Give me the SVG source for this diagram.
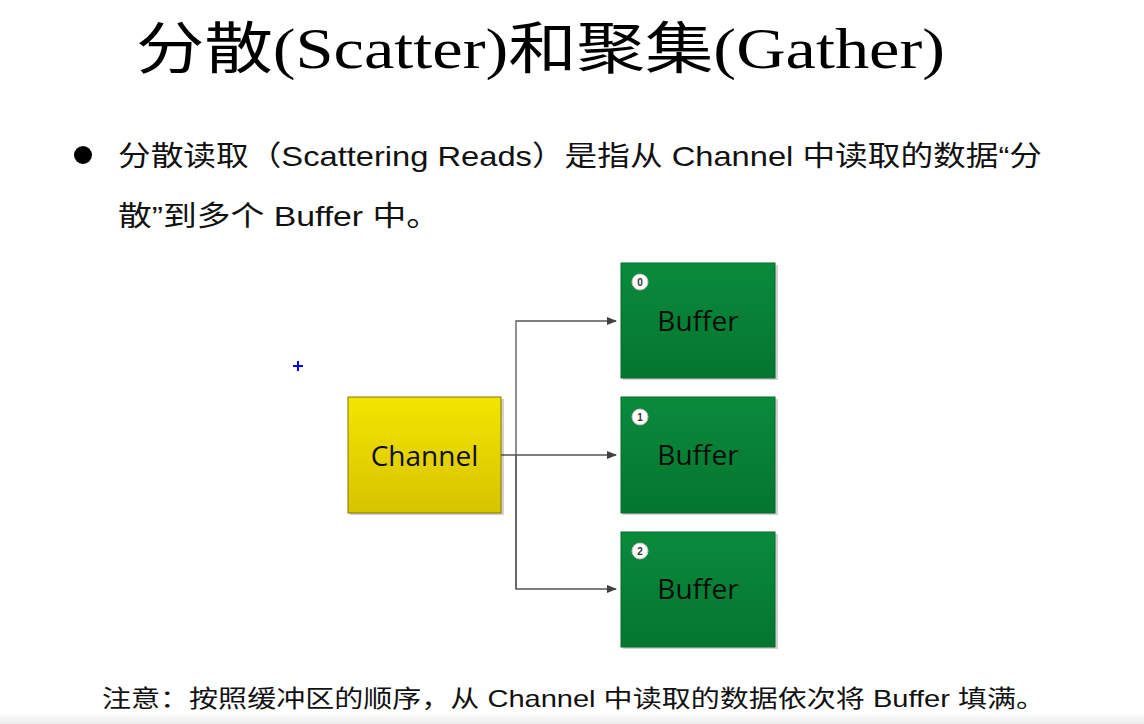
<svg xmlns="http://www.w3.org/2000/svg" width="1144" height="724" viewBox="0 0 1144 724">
<defs>
<linearGradient id="gGreen" x1="0" y1="0" x2="0" y2="1"><stop offset="0" stop-color="#0a8a3c"/><stop offset="1" stop-color="#04762e"/></linearGradient>
<linearGradient id="gYellow" x1="0" y1="0" x2="0" y2="1"><stop offset="0" stop-color="#f3e500"/><stop offset="1" stop-color="#d7c300"/></linearGradient>
<linearGradient id="gBottom" x1="0" y1="0" x2="0" y2="1"><stop offset="0" stop-color="#ffffff"/><stop offset="1" stop-color="#ececec"/></linearGradient>
<marker id="arr" markerWidth="10" markerHeight="8" refX="9" refY="4" orient="auto" markerUnits="userSpaceOnUse"><path d="M0,0 L10,4 L0,8 Z" fill="#404040"/></marker>
</defs>
<style>
.title{font-family:"Liberation Serif","Noto Sans CJK SC",serif;font-size:56px;fill:#000}
.body{font-family:"Liberation Sans","Noto Sans CJK SC",sans-serif;font-size:28px;fill:#111}
.note{font-family:"Liberation Sans","Noto Sans CJK SC",sans-serif;font-size:24px;fill:#111}
.lbl{font-family:"Open Sans","Liberation Sans",sans-serif;font-size:28px;fill:#0d0d0d;text-anchor:middle;dominant-baseline:central}
.buf{fill:url(#gGreen);stroke:#046a2a;stroke-width:1}
.shadow{fill:#000;opacity:0.18}
.badge{fill:#fff;stroke:#bdbdbd;stroke-width:1}
.num{font-family:"Liberation Sans",sans-serif;font-size:10px;font-weight:bold;fill:#333;text-anchor:middle;dominant-baseline:central}
.conn{fill:none;stroke:#555;stroke-width:1.3}
</style>
<rect x="0" y="0" width="1144" height="724" fill="#ffffff"/>
<rect x="0" y="712" width="1144" height="12" fill="url(#gBottom)"/>
<text class="title" x="136" y="68" textLength="809" lengthAdjust="spacingAndGlyphs">分散(Scatter)和聚集(Gather)</text>
<circle cx="83" cy="155" r="9" fill="#000"/>
<text class="body" x="118" y="166" textLength="924" lengthAdjust="spacingAndGlyphs">分散读取（Scattering Reads）是指从 Channel 中读取的数据“分</text>
<text class="body" x="118" y="226" textLength="322" lengthAdjust="spacingAndGlyphs">散”到多个 Buffer 中。</text>
<path d="M293,366 H303 M298,361 V371" stroke="#0000ff" stroke-width="2"/>
<g id="connectors">
<path class="conn" d="M501,455 H616" marker-end="url(#arr)"/>
<path class="conn" d="M516,589 V321 H616" marker-end="url(#arr)"/>
<path class="conn" d="M516,455 V589 H616" marker-end="url(#arr)"/>
</g>
<g id="channel">
<rect class="shadow" x="350" y="399" width="154" height="116"/>
<rect x="348" y="397" width="153" height="116" fill="url(#gYellow)" stroke="#857500" stroke-width="1"/>
<text class="lbl" x="424.5" y="455">Channel</text>
</g>
<g id="buffer0">
<rect class="shadow" x="623" y="265" width="155" height="115"/>
<rect class="buf" x="621" y="263" width="154" height="115"/>
<circle class="badge" cx="640" cy="282" r="8"/>
<text class="num" x="640" y="282">0</text>
<text class="lbl" x="698" y="320">Buffer</text>
</g>
<g id="buffer1">
<rect class="shadow" x="623" y="399" width="155" height="116"/>
<rect class="buf" x="621" y="397" width="154" height="116"/>
<circle class="badge" cx="640" cy="417" r="8"/>
<text class="num" x="640" y="417">1</text>
<text class="lbl" x="698" y="454">Buffer</text>
</g>
<g id="buffer2">
<rect class="shadow" x="623" y="534" width="155" height="115"/>
<rect class="buf" x="621" y="532" width="154" height="115"/>
<circle class="badge" cx="640" cy="551" r="8"/>
<text class="num" x="640" y="551">2</text>
<text class="lbl" x="698" y="588">Buffer</text>
</g>
<text class="note" x="102" y="707" textLength="943" lengthAdjust="spacingAndGlyphs">注意：按照缓冲区的顺序，从 Channel 中读取的数据依次将 Buffer 填满。</text>
</svg>
